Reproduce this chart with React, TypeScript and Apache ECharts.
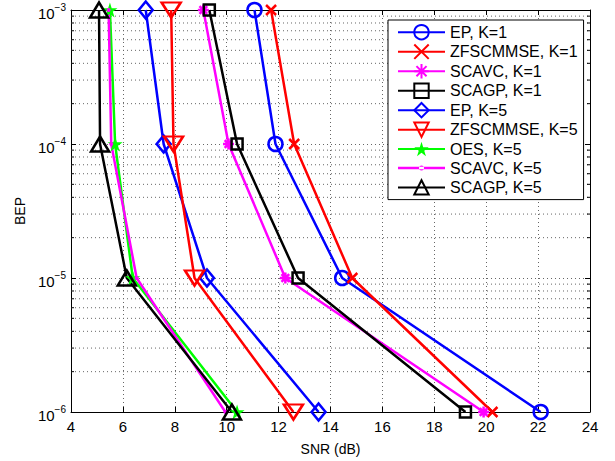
import React, { useEffect, useRef } from "react";
import * as echarts from "echarts";

// BEP levels shared by all curves
const bepLevels = [1e-3, 1e-4, 1e-5, 1e-6];

// SNR (dB) at which each scheme reaches the BEP levels above
const epK1 = [11.07, 11.88, 14.45, 22.1];
const zfK1 = [11.71, 12.6, 14.84, 20.24];
const scavcK1 = [9.1, 10.07, 12.26, 19.9];
const scagpK1 = [9.33, 10.4, 12.75, 19.2];
const epK5 = [6.88, 7.57, 9.24, 13.54];
const zfK5 = [7.86, 7.95, 8.76, 12.57];
const oesK5 = [5.5, 5.7, 6.38, 10.4];
const scavcK5 = [5.45, 5.55, 6.53, 9.95];
const scagpK5 = [5.08, 5.12, 6.15, 10.2];

const seriesNames = [
  "EP, K=1",
  "ZFSCMMSE, K=1",
  "SCAVC, K=1",
  "SCAGP, K=1",
  "EP, K=5",
  "ZFSCMMSE, K=5",
  "OES, K=5",
  "SCAVC, K=5",
  "SCAGP, K=5",
];

const xTicks = { min: 4, max: 24, step: 2 };
const yRange = { min: 1e-6, max: 1e-3 };
const minorMultipliers = [2, 3, 4, 5, 6, 7, 8, 9];
const decades = [1e-6, 1e-5, 1e-4];

const FONT = "Liberation Sans, Arial, Helvetica, sans-serif";

const crossPath = "path://M0,0L10,10M10,0L0,10";
const asteriskPath = "path://M0,5L10,5M5,0L5,10M1.5,1.5L8.5,8.5M8.5,1.5L1.5,8.5";
const starPath =
  "path://M10,0L12.245,6.91L19.51,6.91L13.633,11.18L15.878,18.09L10,13.82L4.122,18.09L6.367,11.18L0.49,6.91L7.755,6.91Z";
const dotLegendIcon =
  "path://M0,6.25L47,6.25L47,8.75L0,8.75Z M21,7.5a2.5,2.5 0 1,0 5,0a2.5,2.5 0 1,0 -5,0Z";

function pairs(xs: number[]) {
  return xs.map((x, i) => [x, bepLevels[i]]);
}

export default function App() {
  const ref = useRef<HTMLDivElement>(null);

  useEffect(() => {
    if (!ref.current) return;
    const chart = echarts.init(ref.current, null, { renderer: "svg" });

    const hollow = "rgba(0,0,0,0)";
    const lw = 2.5;
    const mk = (
      name: string,
      xs: number[],
      color: string,
      symbol: string,
      symbolSize: any,
      filled = false,
      symbolRotate = 0
    ) => ({
      name,
      type: "line",
      data: pairs(xs),
      symbol,
      symbolSize,
      symbolRotate,
      showSymbol: true,
      z: 3,
      lineStyle: { color, width: lw },
      itemStyle: {
        color: filled ? color : hollow,
        borderColor: color,
        borderWidth: filled ? 0 : lw,
      },
    });

    const minorVals: number[] = [];
    decades.forEach((d) => minorMultipliers.forEach((m) => minorVals.push(d * m)));

    const gridDash = [1, 3];
    const gridColor = "#666";

    const series: any[] = [
      {
        name: "_minor",
        type: "custom",
        silent: true,
        z: 1,
        clip: false,
        encode: { x: 0, y: 1 },
        data: minorVals.map((v) => [xTicks.min, v]),
        renderItem: (_params: any, api: any) => {
          const v = api.value(1);
          const p1 = api.coord([xTicks.min, v]);
          const p2 = api.coord([xTicks.max, v]);
          return {
            type: "group",
            children: [
              {
                type: "line",
                shape: { x1: p1[0], y1: p1[1], x2: p2[0], y2: p2[1] },
                style: { stroke: gridColor, lineWidth: 1, lineDash: gridDash },
              },
              {
                type: "line",
                shape: { x1: p1[0], y1: p1[1], x2: p1[0] + 3, y2: p1[1] },
                style: { stroke: "#000", lineWidth: 1 },
              },
              {
                type: "line",
                shape: { x1: p2[0], y1: p2[1], x2: p2[0] - 3, y2: p2[1] },
                style: { stroke: "#000", lineWidth: 1 },
              },
            ],
          };
        },
      },
      mk(seriesNames[0], epK1, "#0000ff", "circle", 14),
      mk(seriesNames[1], zfK1, "#ff0000", crossPath, 10),
      mk(seriesNames[2], scavcK1, "#ff00ff", asteriskPath, 11),
      mk(seriesNames[3], scagpK1, "#000000", "rect", 11),
      mk(seriesNames[4], epK5, "#0000ff", "diamond", [14, 17]),
      mk(seriesNames[5], zfK5, "#ff0000", "triangle", [19, 15], false, 180),
      mk(seriesNames[6], oesK5, "#00ff00", starPath, 15, true),
      mk(seriesNames[7], scavcK5, "#ff00ff", "circle", 4, true),
      mk(seriesNames[8], scagpK5, "#000000", "triangle", [18, 15]),
    ];

    const axisLine = { show: true, lineStyle: { color: "#000", width: 1 } };

    chart.setOption({
      animation: false,
      textStyle: { fontFamily: FONT },
      grid: { left: 71, right: 25, top: 10, bottom: 47 },
      legend: {
        data: seriesNames.map((n, i) =>
          i === 7 ? { name: n, icon: dotLegendIcon } : { name: n }
        ),
        orient: "vertical",
        left: 388,
        top: 20,
        itemWidth: 47,
        itemHeight: 18,
        itemGap: 3.1,
        padding: [4, 6, 4, 9],
        backgroundColor: "#fff",
        borderColor: "#000",
        borderWidth: 1,
        textStyle: { fontSize: 16, color: "#000", fontFamily: FONT },
      },
      xAxis: [
        {
          type: "value",
          min: xTicks.min,
          max: xTicks.max,
          interval: xTicks.step,
          name: "SNR (dB)",
          nameLocation: "middle",
          nameGap: 30,
          nameTextStyle: { fontSize: 14, color: "#000", fontFamily: FONT },
          axisLine,
          axisTick: { show: true, inside: true, length: 5, lineStyle: { color: "#000" } },
          axisLabel: { fontSize: 15, color: "#000", margin: 7, fontFamily: FONT },
          splitLine: { show: true, lineStyle: { color: gridColor, width: 1, type: gridDash } },
        },
        {
          type: "value",
          position: "top",
          min: xTicks.min,
          max: xTicks.max,
          interval: xTicks.step,
          axisLine,
          axisTick: { show: true, inside: true, length: 5, lineStyle: { color: "#000" } },
          axisLabel: { show: false },
          splitLine: { show: false },
        },
      ],
      yAxis: [
        {
          type: "log",
          logBase: 10,
          min: yRange.min,
          max: yRange.max,
          name: "BEP",
          nameLocation: "middle",
          nameGap: 44,
          nameTextStyle: { fontSize: 14, color: "#000", fontFamily: FONT },
          axisLine,
          axisTick: { show: true, inside: true, length: 5, lineStyle: { color: "#000" } },
          axisLabel: {
            margin: 5,
            color: "#000",
            formatter: (v: number) => {
              const e = Math.round(Math.log10(v));
              return `{b|10}{s|\u2212${-e}}`;
            },
            rich: {
              b: { fontSize: 15, color: "#000", fontFamily: FONT, padding: [6, 0, 0, 0] },
              s: { fontSize: 10, color: "#000", fontFamily: FONT, padding: [0, 0, 6, 0] },
            },
          },
          splitLine: { show: true, lineStyle: { color: gridColor, width: 1, type: gridDash } },
          minorTick: { show: false },
          minorSplitLine: { show: false },
        },
        {
          type: "log",
          logBase: 10,
          position: "right",
          min: yRange.min,
          max: yRange.max,
          axisLine,
          axisTick: { show: true, inside: true, length: 5, lineStyle: { color: "#000" } },
          axisLabel: { show: false },
          splitLine: { show: false },
        },
      ],
      series,
    });

    return () => chart.dispose();
  }, []);

  return (
    <div
      ref={ref}
      style={{ position: "absolute", left: 0, top: 0, width: 615, height: 461, background: "#fff" }}
    />
  );
}
